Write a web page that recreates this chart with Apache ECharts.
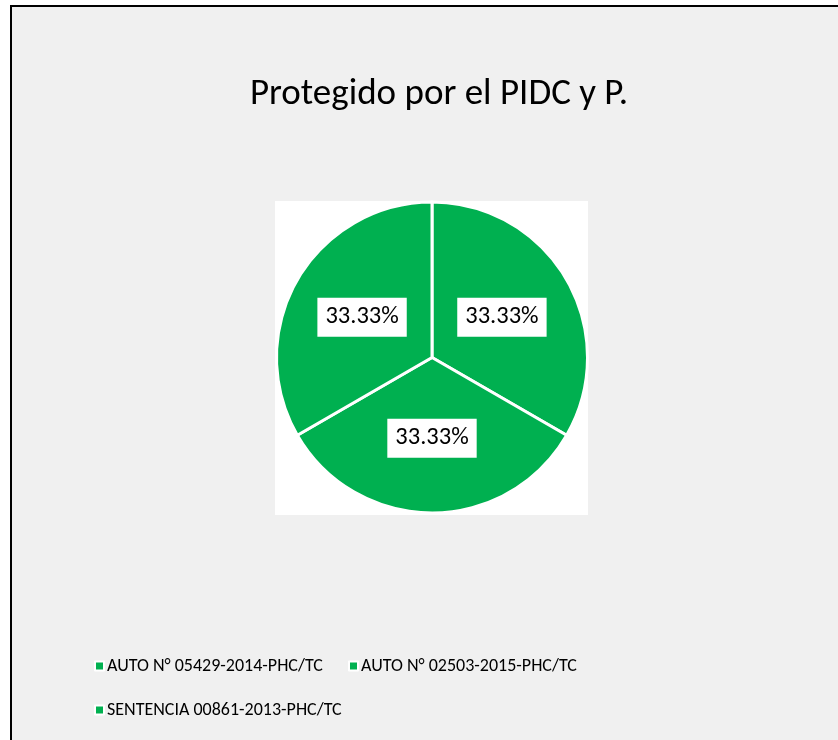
<!DOCTYPE html>
<html>
<head>
<meta charset="utf-8">
<script src="https://cdn.jsdelivr.net/npm/echarts@6/dist/echarts.min.js"></script>
<style>
  html, body { margin: 0; padding: 0; background: #fff; }
  #chart { width: 838px; height: 740px; }
</style>
</head>
<body>
<div id="chart"></div>
<script>
const titleText = 'Protegido por el PIDC y P.';
const categories = [
  'AUTO N° 05429-2014-PHC/TC',
  'AUTO N° 02503-2015-PHC/TC',
  'SENTENCIA 00861-2013-PHC/TC'
];
const values = [1, 1, 1];

const font = 'Carlito, Lato, sans-serif';
const green = '#00b050';
const total = values.reduce((a, b) => a + b, 0);

// one legend box per item so each sits where the reference puts it
const legendSpot = [[89, 652], [343, 652], [89, 696]];
const legends = categories.map((name, i) => ({
  data: [name],
  left: legendSpot[i][0], top: legendSpot[i][1],
  icon: 'rect', itemWidth: 9, itemHeight: 9,
  itemStyle: { borderColor: '#fff', borderWidth: 2 },
  textStyle: { fontFamily: font, fontSize: 18, color: '#000', padding: [0, 0, 0, -2] }
}));

const chart = echarts.init(document.getElementById('chart'));
const option = {
  backgroundColor: '#fff',
  animation: false,
  color: [green, green, green],
  graphic: [
    {
      type: 'rect', z: -10,
      shape: { x: 11, y: 6, width: 900, height: 800 },
      style: { fill: '#f0f0f0', stroke: '#000', lineWidth: 2 }
    },
    {
      type: 'rect', z: -9,
      shape: { x: 275, y: 201, width: 313, height: 314 },
      style: { fill: '#fff' }
    }
  ],
  title: {
    text: titleText,
    left: 434, top: 71, textAlign: 'center',
    textStyle: { fontFamily: font, fontSize: 37, fontWeight: 'normal', color: '#000' }
  },
  legend: legends,
  series: [
    {
      type: 'pie',
      center: [432, 357.5],
      radius: 155.5,
      startAngle: 90,
      clockwise: true,
      itemStyle: { borderColor: '#fff', borderWidth: 3 },
      emphasis: { disabled: true },
      label: {
        show: true,
        position: 'inside',
        formatter: (p) => (p.value / total * 100).toFixed(2) + '%',
        fontFamily: font,
        fontSize: 24.5,
        color: '#000',
        backgroundColor: '#fff',
        padding: [8, 8, 6, 8]
      },
      labelLine: { show: false },
      data: categories.map((name, i) => ({ name: name, value: values[i] }))
    }
  ]
};
chart.setOption(option);
</script>
</body>
</html>
